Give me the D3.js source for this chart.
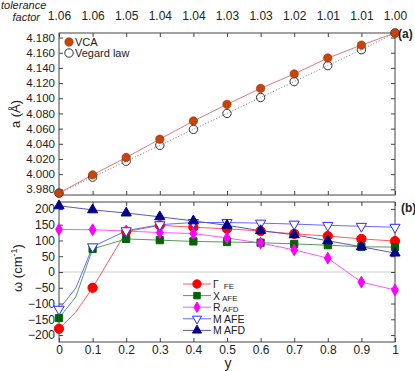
<!DOCTYPE html>
<html>
<head>
<meta charset="utf-8">
<script src="https://cdn.jsdelivr.net/npm/d3@7"></script>
<style>
  body { margin: 0; background: #fff; }
  text { font-family: "Liberation Sans", Arial, sans-serif; fill: #222; }
</style>
</head>
<body>
<div id="container"></div>
<script>
// data
const yComp = [0, 0.1, 0.2, 0.3, 0.4, 0.5, 0.6, 0.7, 0.8, 0.9, 1.0];
const toleranceLabels = ["1.06", "1.06", "1.05", "1.04", "1.04", "1.03", "1.03", "1.02", "1.01", "1.01", "1.00"];

const latticeVCA = [3.975, 3.999, 4.022, 4.046, 4.070, 4.092, 4.113, 4.132, 4.153, 4.170, 4.186];
const latticeVegard = [3.975, 3.996, 4.017, 4.038, 4.059, 4.080, 4.101, 4.122, 4.143, 4.164, 4.186];

const gammaFE = [-180, -50, 128, 148, 142, 137, 130, 121, 114, 105, 98];
const xAFE = [-146, 73, 105, 101, 97, 95, 93, 89, 85, 80, 79];
const rAFD = [135, 134, 130, 125, 122, 108, 92, 70, 44, -32, -57];
const mAFE = [-118, 80, 131, 150, 157, 157, 155, 152, 148, 145, 142];
const mAFD = [210, 197, 187, 175, 162, 148, 131, 118, 99, 80, 60];

// line-only kinks between y = 0 and y = 0.1
const kinkY = 0.05;
const gammaKink = -127;
const xKink = -79;
const mAfeKink = -51;

// layout
const svgWidth = 415;
const svgHeight = 371;
const plotLeft = 59;
const plotRight = 395;
const panelA = { top: 33, bottom: 195 };
const panelB = { top: 202, bottom: 342 };

const x = d3.scaleLinear().domain([0, 1]).range([plotLeft, plotRight]);
const yA = d3.scaleLinear().domain([3.9725, 4.186]).range([panelA.bottom, panelA.top]);
const yB = d3.scaleLinear().domain([-222, 222]).range([panelB.bottom, panelB.top]);

const svg = d3.select("#container").append("svg")
  .attr("width", svgWidth)
  .attr("height", svgHeight);

function withKink(values, kink) {
  const pts = yComp.map((c, i) => [c, values[i]]);
  if (kink !== undefined) pts.splice(1, 0, [kinkY, kink]);
  return pts;
}

function frame(top, bottom) {
  svg.append("rect")
    .attr("x", plotLeft).attr("y", top)
    .attr("width", plotRight - plotLeft).attr("height", bottom - top)
    .attr("fill", "none").attr("stroke", "#444").attr("stroke-width", 1);
}

// ---------- panel (a) ----------
frame(panelA.top, panelA.bottom);

// top ticks + tolerance factor
svg.append("g")
  .attr("transform", `translate(0,${panelA.top})`)
  .call(d3.axisTop(x).tickValues(yComp).tickSize(-4).tickFormat((d, i) => toleranceLabels[i]))
  .call(g => g.select(".domain").remove())
  .call(g => g.selectAll("line").attr("stroke", "#444"))
  .call(g => g.selectAll("text").attr("font-size", 12).attr("y", -13).attr("dy", 0));

svg.append("g")
  .attr("transform", `translate(0,${panelA.bottom})`)
  .call(d3.axisBottom(x).tickValues(yComp).tickSize(-4).tickFormat(""))
  .call(g => g.select(".domain").remove())
  .call(g => g.selectAll("line").attr("stroke", "#444"));

const ticksA = d3.range(3.98, 4.1801, 0.02);
svg.append("g")
  .attr("transform", `translate(${plotLeft},0)`)
  .call(d3.axisLeft(yA).tickValues(ticksA).tickSize(-4).tickFormat(d3.format(".3f")))
  .call(g => g.select(".domain").remove())
  .call(g => g.selectAll("line").attr("stroke", "#444"))
  .call(g => g.selectAll("text").attr("font-size", 11.5).attr("x", -4));

svg.append("g")
  .attr("transform", `translate(${plotRight},0)`)
  .call(d3.axisRight(yA).tickValues(ticksA).tickSize(-4).tickFormat(""))
  .call(g => g.select(".domain").remove())
  .call(g => g.selectAll("line").attr("stroke", "#444"));

svg.append("text").attr("x", 1).attr("y", 9)
  .attr("font-size", 11).attr("font-style", "italic").text("tolerance");
svg.append("text").attr("x", 40).attr("y", 21)
  .attr("font-size", 11).attr("font-style", "italic").attr("text-anchor", "end").text("factor");

svg.append("text")
  .attr("transform", `translate(20,114) rotate(-90)`)
  .attr("text-anchor", "middle").attr("font-size", 13).text("a (Å)");

const lineA = d3.line().x(d => x(d[0])).y(d => yA(d[1]));
svg.append("path")
  .attr("d", lineA(yComp.map((c, i) => [c, latticeVegard[i]])))
  .attr("fill", "none").attr("stroke", "#777").attr("stroke-width", 1).attr("stroke-dasharray", "1,2");
svg.append("path")
  .attr("d", lineA(yComp.map((c, i) => [c, latticeVCA[i]])))
  .attr("fill", "none").attr("stroke", "#e07a7a").attr("stroke-width", 1);

svg.append("g").selectAll("circle").data(yComp).join("circle")
  .attr("cx", d => x(d)).attr("cy", (d, i) => yA(latticeVegard[i])).attr("r", 4.2)
  .attr("fill", "none").attr("stroke", "#333").attr("stroke-width", 1);
svg.append("g").selectAll("circle").data(yComp).join("circle")
  .attr("cx", d => x(d)).attr("cy", (d, i) => yA(latticeVCA[i])).attr("r", 4.2)
  .attr("fill", "#c8440a").attr("stroke", "#8a2e05").attr("stroke-width", 0.6);

// legend (a)
svg.append("circle").attr("cx", 69).attr("cy", 42).attr("r", 4.2)
  .attr("fill", "#c8440a").attr("stroke", "#8a2e05").attr("stroke-width", 0.6);
svg.append("text").attr("x", 75).attr("y", 46).attr("font-size", 11).text("VCA");
svg.append("circle").attr("cx", 69).attr("cy", 53).attr("r", 4.2)
  .attr("fill", "none").attr("stroke", "#333");
svg.append("text").attr("x", 75).attr("y", 57).attr("font-size", 11).text("Vegard law");

svg.append("text").attr("x", 398).attr("y", 38).attr("font-size", 12).attr("font-weight", "bold").text("(a)");

// ---------- panel (b) ----------
svg.append("line")
  .attr("x1", plotLeft).attr("x2", plotRight).attr("y1", yB(0)).attr("y2", yB(0))
  .attr("stroke", "#ccc").attr("stroke-width", 1);

frame(panelB.top, panelB.bottom);

svg.append("g")
  .attr("transform", `translate(0,${panelB.bottom})`)
  .call(d3.axisBottom(x).tickValues(yComp).tickSize(-4).tickFormat(d => d3.format("")(d)))
  .call(g => g.select(".domain").remove())
  .call(g => g.selectAll("line").attr("stroke", "#444"))
  .call(g => g.selectAll("text").attr("font-size", 12).attr("y", 3).attr("dy", "0.71em"));

svg.append("g")
  .attr("transform", `translate(0,${panelB.top})`)
  .call(d3.axisTop(x).tickValues(yComp).tickSize(-4).tickFormat(""))
  .call(g => g.select(".domain").remove())
  .call(g => g.selectAll("line").attr("stroke", "#444"));

const ticksB = d3.range(-200, 201, 50);
svg.append("g")
  .attr("transform", `translate(${plotLeft},0)`)
  .call(d3.axisLeft(yB).tickValues(ticksB).tickSize(-4))
  .call(g => g.select(".domain").remove())
  .call(g => g.selectAll("line").attr("stroke", "#444"))
  .call(g => g.selectAll("text").attr("font-size", 12).attr("x", -4).text(d => d3.format("")(d)));

svg.append("g")
  .attr("transform", `translate(${plotRight},0)`)
  .call(d3.axisRight(yB).tickValues(ticksB).tickSize(-4).tickFormat(""))
  .call(g => g.select(".domain").remove())
  .call(g => g.selectAll("line").attr("stroke", "#444"));

const omegaLabel = svg.append("text")
  .attr("transform", `translate(22,268) rotate(-90)`)
  .attr("text-anchor", "middle").attr("font-size", 13);
omegaLabel.append("tspan").text("ω (cm");
omegaLabel.append("tspan").attr("font-size", 9).attr("baseline-shift", "super").text("-1");
omegaLabel.append("tspan").text(")");

svg.append("text").attr("x", 228).attr("y", 368).attr("font-size", 14)
  .attr("text-anchor", "middle").text("y");

svg.append("text").attr("x", 401).attr("y", 212).attr("font-size", 12).attr("font-weight", "bold").text("(b)");

const modes = [
  { name: "Γ", sub: "FE", values: gammaFE, kink: gammaKink, line: "#ff5a5a", fill: "#ff0000", stroke: "#ff0000", symbol: d3.symbolCircle, size: 68 },
  { name: "X", sub: "AFE", values: xAFE, kink: xKink, line: "#5a9a5a", fill: "#006400", stroke: "#006400", symbol: d3.symbolSquare, size: 52 },
  { name: "R", sub: "AFD", values: rAFD, line: "#ff55ff", fill: "#ff00ff", stroke: "#ff00ff", symbol: d3.symbolDiamond, size: 40 },
  { name: "M AFE", values: mAFE, kink: mAfeKink, line: "#6a6aff", fill: "#fff", stroke: "#2a2aff", symbol: d3.symbolTriangle, size: 45, down: true },
  { name: "M AFD", values: mAFD, line: "#5a5ab0", fill: "#00008b", stroke: "#00008b", symbol: d3.symbolTriangle, size: 45 }
];

const lineB = d3.line().x(d => x(d[0])).y(d => yB(d[1]));

modes.forEach(m => {
  svg.append("path")
    .attr("d", lineB(withKink(m.values, m.kink)))
    .attr("fill", "none").attr("stroke", m.line).attr("stroke-width", 1);
});

modes.forEach(m => {
  const sym = d3.symbol().type(m.symbol).size(m.size);
  svg.append("g").selectAll("path").data(yComp).join("path")
    .attr("d", sym)
    .attr("transform", (d, i) => `translate(${x(d)},${yB(m.values[i])})${m.down ? " rotate(180)" : ""}`)
    .attr("fill", m.fill).attr("stroke", m.stroke).attr("stroke-width", 1);
});

// legend (b)
const legendB = svg.append("g").attr("transform", "translate(183,284)");
modes.forEach((m, i) => {
  const row = legendB.append("g").attr("transform", `translate(0,${i * 11.6})`);
  row.append("line").attr("x1", 0).attr("x2", 28).attr("stroke", m.line);
  row.append("path")
    .attr("d", d3.symbol().type(m.symbol).size(m.size * 0.8))
    .attr("transform", `translate(14,0)${m.down ? " rotate(180)" : ""}`)
    .attr("fill", m.fill).attr("stroke", m.stroke);
  const t = row.append("text").attr("x", 30).attr("y", 4).attr("font-size", 10.5);
  t.append("tspan").text(m.name);
  if (m.sub) {
    t.append("tspan").attr("font-size", 8).attr("dx", m.name === "Γ" ? 5 : 2).attr("dy", 1).text(m.sub);
  }
});
</script>
</body>
</html>
